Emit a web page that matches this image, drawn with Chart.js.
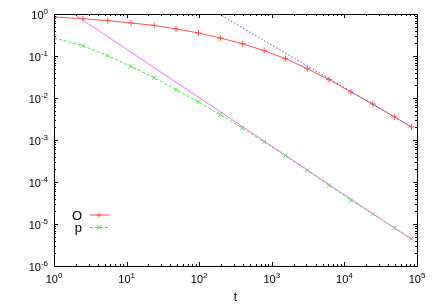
<!DOCTYPE html>
<html>
<head>
<meta charset="utf-8">
<script src="https://cdn.jsdelivr.net/npm/chart.js@4"></script>
<style>
  html, body { margin: 0; padding: 0; background: #fff; }
  #wrap { width: 436px; height: 305px; }
</style>
</head>
<body>
<div id="wrap"><canvas id="plot"></canvas></div>
<script>
// sample times (same for both series)
const times = [1, 2.5, 5.5, 11.5, 24, 48, 98, 196, 392, 784, 1540, 3070, 6140, 12300, 24600, 49200, 84000];
const valuesO = [0.848, 0.773, 0.692, 0.611, 0.535, 0.442, 0.353, 0.268, 0.196, 0.134, 0.0862, 0.0499, 0.0273, 0.0139, 0.0072, 0.00353, 0.00204];
const valuesP = [0.273, 0.176, 0.1016, 0.0565, 0.0304, 0.0158, 0.00803, 0.0040, 0.00193, 0.000896, 0.000423, 0.000189, 0.000083, 0.0000365, 0.0000173, 0.0000080, 0.00000447];
// power-law guide lines (end points)
const guideMagentaT = [1.88, 84000];
const guideMagentaY = [1, 0.0000043];
const guideBlueT = [187, 83800];
const guideBlueY = [1, 0.00204];
const xDecades = [0, 1, 2, 3, 4, 5];
const yDecades = [-6, -5, -4, -3, -2, -1, 0];
const legendNames = ['O', 'p'];

const pairs = (ts, ys) => ts.map((t, i) => ({ x: t, y: ys[i] }));

const RED = 'rgb(250,80,80)';
const GREEN = 'rgb(70,225,70)';
const MAGENTA = 'rgb(235,120,235)';
const BLUE = 'rgb(80,80,240)';

const FONT = '"Liberation Sans", Arial, sans-serif';

function drawMarker(ctx, kind, x, y, r) {
  ctx.beginPath();
  if (kind === 'plus') {
    ctx.moveTo(x - r, y); ctx.lineTo(x + r, y);
    ctx.moveTo(x, y - r); ctx.lineTo(x, y + r);
  } else {
    ctx.moveTo(x - r, y - r); ctx.lineTo(x + r, y + r);
    ctx.moveTo(x - r, y + r); ctx.lineTo(x + r, y - r);
  }
  ctx.stroke();
}

function powerLabel(ctx, exp, x, y, align) {
  const base = '10';
  const sup = String(exp);
  ctx.font = '11px ' + FONT;
  const wb = ctx.measureText(base).width;
  ctx.font = '8px ' + FONT;
  const ws = ctx.measureText(sup).width;
  const total = wb + ws;
  let left = align === 'right' ? x - total : x - total / 2;
  ctx.textAlign = 'left';
  ctx.textBaseline = 'alphabetic';
  ctx.font = '11px ' + FONT;
  ctx.fillText(base, left, y);
  ctx.font = '8px ' + FONT;
  ctx.fillText(sup, left + wb, y - 5);
}

const gnuplotFrame = {
  id: 'gnuplotFrame',
  afterDraw(chart) {
    const { ctx, chartArea: a, scales: { x, y } } = chart;
    ctx.save();
    ctx.strokeStyle = '#000';
    ctx.fillStyle = '#000';
    ctx.lineWidth = 1;
    ctx.setLineDash([]);

    // frame
    ctx.strokeRect(a.left + 0.5, a.top + 0.5, a.right - a.left, a.bottom - a.top);

    // x ticks
    ctx.beginPath();
    xDecades.forEach(d => {
      const px = Math.round(x.getPixelForValue(Math.pow(10, d))) + 0.5;
      ctx.moveTo(px, a.bottom); ctx.lineTo(px, a.bottom - 4);
      ctx.moveTo(px, a.top); ctx.lineTo(px, a.top + 4);
      if (d < 5) {
        for (let m = 2; m <= 9; m++) {
          const mx = Math.round(x.getPixelForValue(m * Math.pow(10, d))) + 0.5;
          ctx.moveTo(mx, a.bottom); ctx.lineTo(mx, a.bottom - 2);
          ctx.moveTo(mx, a.top); ctx.lineTo(mx, a.top + 2);
        }
      }
    });
    // y ticks
    yDecades.forEach(d => {
      const py = Math.round(y.getPixelForValue(Math.pow(10, d))) + 0.5;
      ctx.moveTo(a.left, py); ctx.lineTo(a.left + 4, py);
      ctx.moveTo(a.right, py); ctx.lineTo(a.right - 4, py);
      if (d < 0) {
        for (let m = 2; m <= 9; m++) {
          const my = Math.round(y.getPixelForValue(m * Math.pow(10, d))) + 0.5;
          ctx.moveTo(a.left, my); ctx.lineTo(a.left + 2, my);
          ctx.moveTo(a.right, my); ctx.lineTo(a.right - 2, my);
        }
      }
    });
    ctx.stroke();

    // tick labels
    xDecades.forEach(d => {
      powerLabel(ctx, d, x.getPixelForValue(Math.pow(10, d)), a.bottom + 17, 'center');
    });
    yDecades.forEach(d => {
      powerLabel(ctx, d, a.left - 6, y.getPixelForValue(Math.pow(10, d)) + 5, 'right');
    });

    // axis title
    ctx.font = '12px ' + FONT;
    ctx.textAlign = 'center';
    ctx.fillText('t', (a.left + a.right) / 2, a.bottom + 35);

    // legend
    const keys = [
      { color: RED, dash: [], marker: 'plus', ly: a.bottom - 51 },
      { color: GREEN, dash: [3, 2], marker: 'cross', ly: a.bottom - 38.5 }
    ];
    keys.forEach((k, i) => {
      ctx.fillStyle = '#000';
      ctx.font = '13px ' + FONT;
      ctx.textAlign = 'right';
      ctx.fillText(legendNames[i], a.left + 28, k.ly + 4.5);
      ctx.strokeStyle = k.color;
      ctx.setLineDash(k.dash);
      ctx.beginPath();
      ctx.moveTo(a.left + 36, k.ly); ctx.lineTo(a.left + 55, k.ly);
      ctx.stroke();
      ctx.setLineDash([]);
      drawMarker(ctx, k.marker, a.left + 45, k.ly, 2.5);
    });
    ctx.restore();
  }
};

new Chart(document.getElementById('plot'), {
  type: 'line',
  data: {
    datasets: [
      {
        label: 'O',
        data: pairs(times, valuesO),
        borderColor: RED,
        borderWidth: 1,
        pointStyle: 'cross',
        pointRadius: 3,
        pointBorderColor: RED,
        pointBorderWidth: 1,
        order: 4
      },
      {
        label: 'p',
        data: pairs(times, valuesP),
        borderColor: GREEN,
        borderWidth: 1,
        borderDash: [3, 2],
        pointStyle: 'crossRot',
        pointRadius: 3,
        pointBorderColor: GREEN,
        pointBorderWidth: 1,
        order: 3
      },
      {
        label: 'guide1',
        data: pairs(guideMagentaT, guideMagentaY),
        borderColor: MAGENTA,
        borderWidth: 1,
        pointRadius: 0,
        order: 2
      },
      {
        label: 'guide2',
        data: pairs(guideBlueT, guideBlueY),
        borderColor: BLUE,
        borderWidth: 1,
        borderDash: [1.5, 2],
        pointRadius: 0,
        order: 1
      }
    ]
  },
  options: {
    responsive: true,
    maintainAspectRatio: false,
    animation: false,
    layout: { padding: { left: 54, right: 19, top: 14, bottom: 39 } },
    plugins: { legend: { display: false }, tooltip: { enabled: false } },
    elements: { line: { tension: 0 } },
    scales: {
      x: { type: 'logarithmic', min: 1, max: 100000, display: false },
      y: { type: 'logarithmic', min: 0.000001, max: 1, display: false }
    }
  },
  plugins: [gnuplotFrame]
});
</script>
</body>
</html>
